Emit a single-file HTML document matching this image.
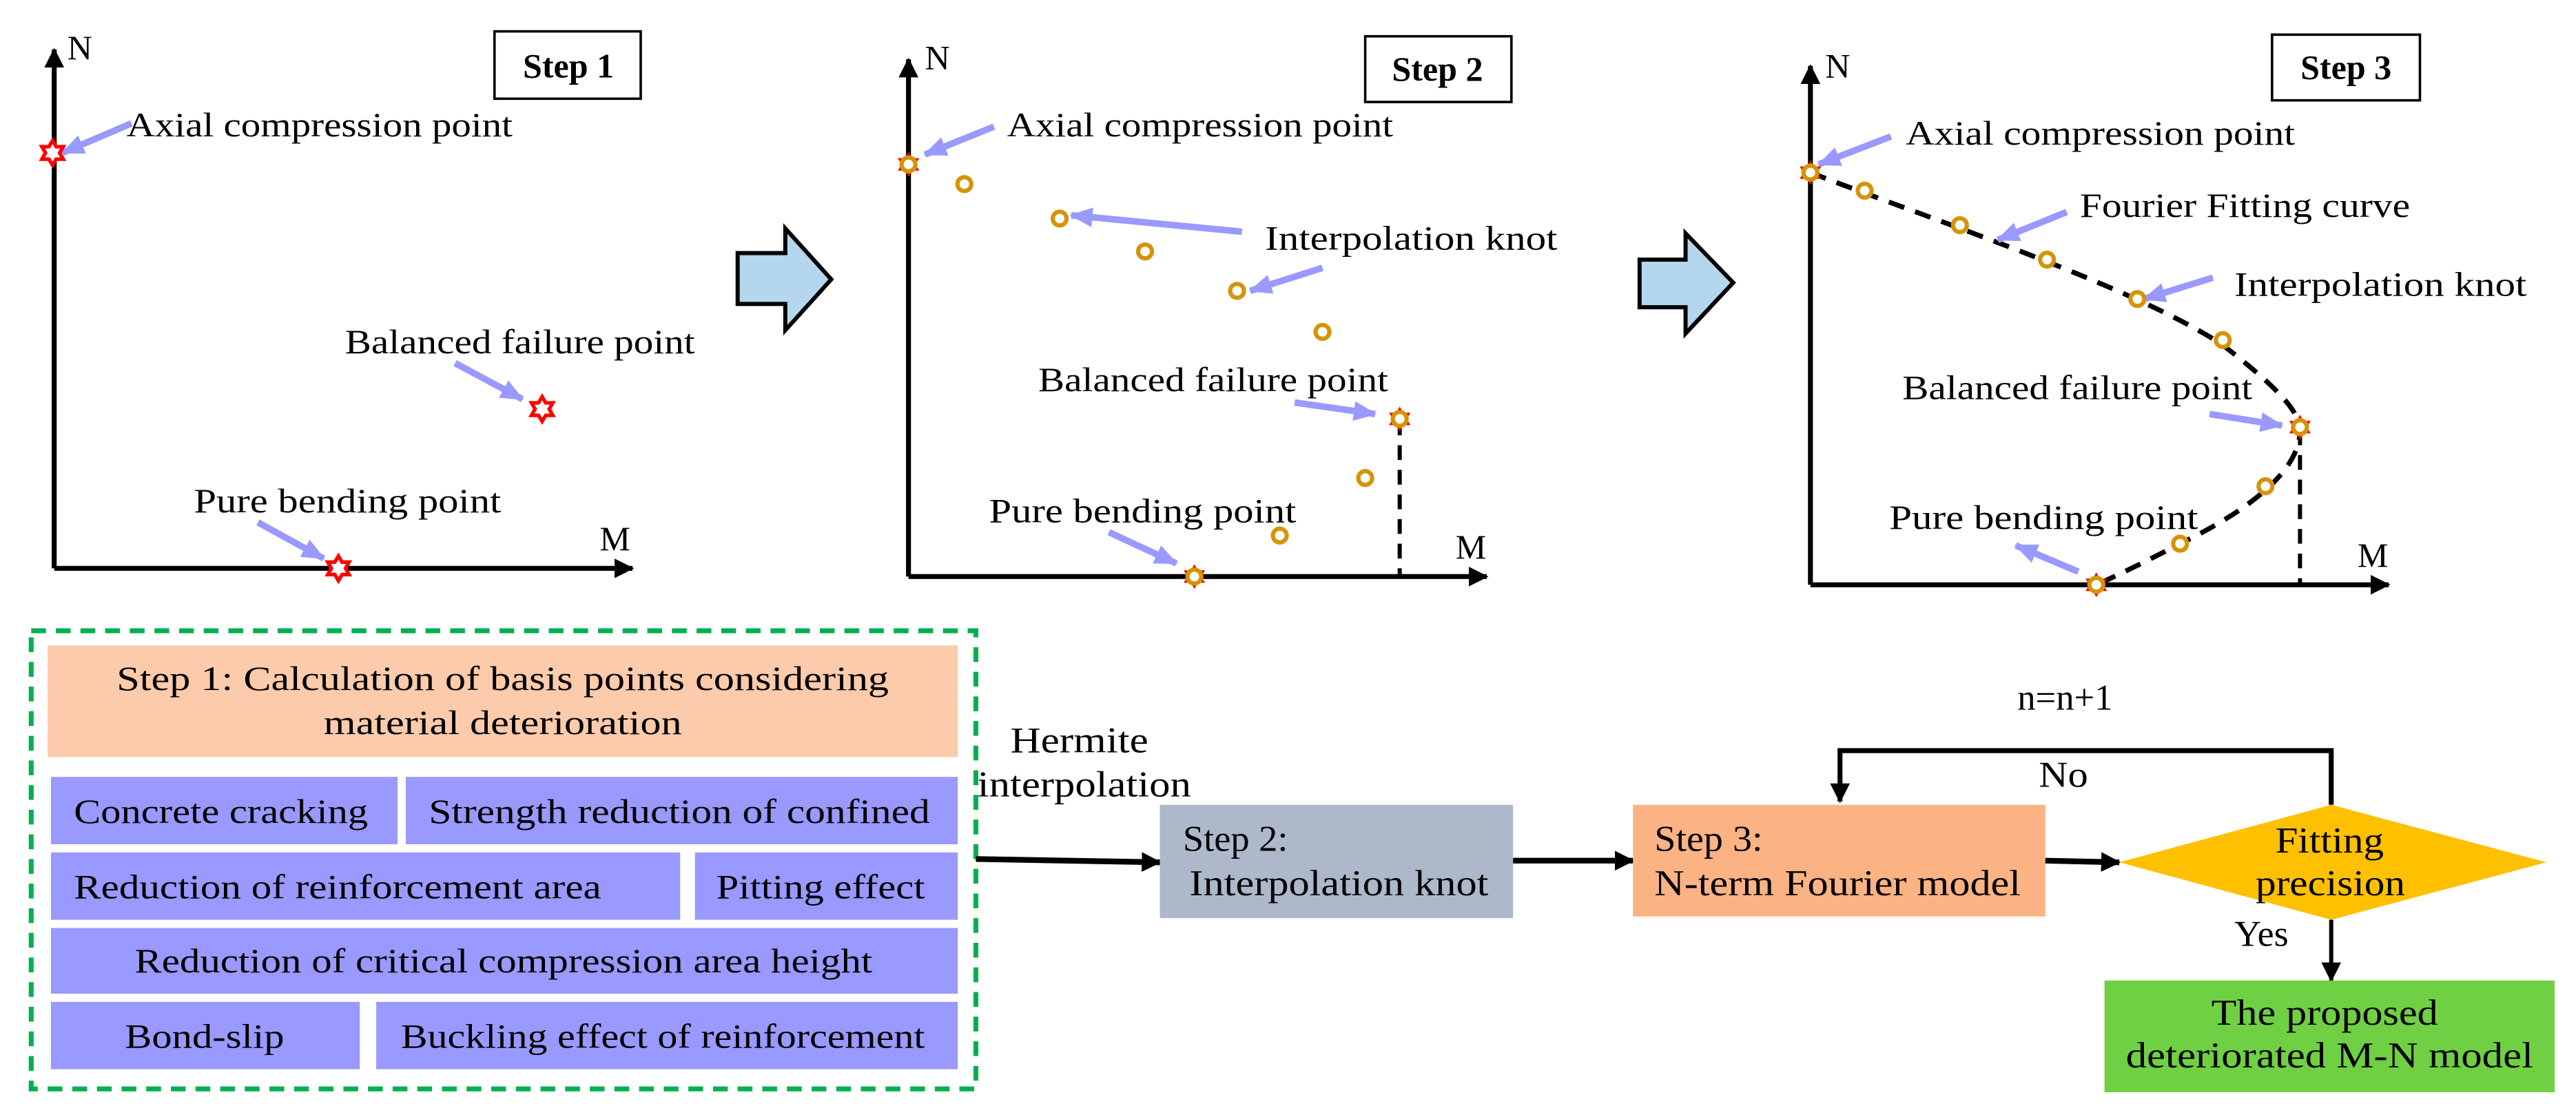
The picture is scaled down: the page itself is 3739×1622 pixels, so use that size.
<!DOCTYPE html>
<html><head><meta charset="utf-8"><style>
html,body{margin:0;padding:0;background:#fff}
svg{display:block}
text{font-family:"Liberation Serif",serif;fill:#000}
</style></head><body>
<svg width="3739" height="1622" viewBox="0 0 1568 680" xmlns="http://www.w3.org/2000/svg">
<defs>
<marker id="bh" markerUnits="userSpaceOnUse" markerWidth="14" markerHeight="12" refX="13" refY="6" orient="auto"><path d="M0,0 L14,6 L0,12 Z" fill="#9999FF"/></marker>
<marker id="kh" markerUnits="userSpaceOnUse" markerWidth="12" markerHeight="12" refX="11" refY="6" orient="auto"><path d="M0,0 L12,6 L0,12 Z" fill="#000"/></marker>
<g id="star"><path d="M0,-7.5 L2.2,-3.8 L6.5,-3.8 L4.3,0 L6.5,3.8 L2.2,3.8 L0,7.5 L-2.2,3.8 L-6.5,3.8 L-4.3,0 L-6.5,-3.8 L-2.2,-3.8 Z" fill="#fff" stroke="#FF0000" stroke-width="2.2"/></g>
<g id="sstar"><path d="M0,-7.5 L6.5,3.8 L-6.5,3.8 Z M0,7.5 L6.5,-3.8 L-6.5,-3.8 Z" fill="#FF0000"/><circle r="4.2" fill="#fff" stroke="#D4940A" stroke-width="2.6"/></g>
<g id="knot"><circle r="4.2" fill="#fff" stroke="#D4940A" stroke-width="2.6"/></g>
</defs>
<g stroke-linecap="butt">
<!-- Panel 1 -->
<line x1="33" y1="346" x2="33" y2="30" stroke="#000" stroke-width="3" marker-end="url(#kh)"/>
<line x1="33" y1="346" x2="385" y2="346" stroke="#000" stroke-width="3" marker-end="url(#kh)"/>
<text x="41" y="36" font-size="21">N</text>
<text x="365" y="335" font-size="21">M</text>
<rect x="301" y="19" width="89" height="41" fill="#fff" stroke="#000" stroke-width="1.5"/>
<text x="346" y="47" font-size="21" font-weight="bold" text-anchor="middle">Step 1</text>
<line x1="80" y1="75" x2="38" y2="93" stroke="#9999FF" stroke-width="4" marker-end="url(#bh)"/>
<text x="77" y="83" font-size="21" textLength="235" lengthAdjust="spacingAndGlyphs">Axial compression point</text>
<use href="#star" x="32" y="93"/>
<line x1="277" y1="221" x2="318" y2="243" stroke="#9999FF" stroke-width="4" marker-end="url(#bh)"/>
<text x="210" y="215" font-size="21" textLength="213" lengthAdjust="spacingAndGlyphs">Balanced failure point</text>
<use href="#star" x="330" y="249"/>
<line x1="157" y1="318" x2="197" y2="340" stroke="#9999FF" stroke-width="4" marker-end="url(#bh)"/>
<text x="118" y="312" font-size="21" textLength="187" lengthAdjust="spacingAndGlyphs">Pure bending point</text>
<use href="#star" x="206" y="346"/>
<!-- big arrows -->
<path d="M449,154 L478,154 L478,139 L506,170 L478,201 L478,185 L449,185 Z" fill="#B4D7EE" stroke="#000" stroke-width="2.5"/>
<path d="M998,158 L1026,158 L1026,142 L1055,172 L1026,203 L1026,187 L998,187 Z" fill="#B4D7EE" stroke="#000" stroke-width="2.5"/>
<!-- Panel 2 -->
<line x1="553" y1="351" x2="553" y2="36" stroke="#000" stroke-width="3" marker-end="url(#kh)"/>
<line x1="553" y1="351" x2="905" y2="351" stroke="#000" stroke-width="3" marker-end="url(#kh)"/>
<text x="563" y="42" font-size="21">N</text>
<text x="886" y="340" font-size="21">M</text>
<rect x="831" y="22" width="89" height="40" fill="#fff" stroke="#000" stroke-width="1.5"/>
<text x="875" y="49" font-size="21" font-weight="bold" text-anchor="middle">Step 2</text>
<line x1="852" y1="256" x2="852" y2="351" stroke="#000" stroke-width="2.5" stroke-dasharray="9,6"/>
<line x1="605" y1="77" x2="563" y2="94" stroke="#9999FF" stroke-width="4" marker-end="url(#bh)"/>
<text x="613" y="83" font-size="21" textLength="235" lengthAdjust="spacingAndGlyphs">Axial compression point</text>
<line x1="756" y1="141" x2="652" y2="131" stroke="#9999FF" stroke-width="4" marker-end="url(#bh)"/>
<line x1="805" y1="163" x2="761" y2="177" stroke="#9999FF" stroke-width="4" marker-end="url(#bh)"/>
<text x="770" y="152" font-size="21" textLength="178" lengthAdjust="spacingAndGlyphs">Interpolation  knot</text>
<line x1="788" y1="245" x2="837" y2="252" stroke="#9999FF" stroke-width="4" marker-end="url(#bh)"/>
<text x="632" y="238" font-size="21" textLength="213" lengthAdjust="spacingAndGlyphs">Balanced failure point</text>
<line x1="675" y1="324" x2="716" y2="343" stroke="#9999FF" stroke-width="4" marker-end="url(#bh)"/>
<text x="602" y="318" font-size="21" textLength="187" lengthAdjust="spacingAndGlyphs">Pure bending point</text>
<use href="#knot" x="587" y="112"/><use href="#knot" x="645" y="133"/><use href="#knot" x="697" y="153"/>
<use href="#knot" x="753" y="177"/><use href="#knot" x="805" y="202"/><use href="#knot" x="831" y="291"/>
<use href="#knot" x="779" y="326"/>
<use href="#sstar" x="553" y="100"/><use href="#sstar" x="852" y="255"/><use href="#sstar" x="727" y="351"/>
<!-- Panel 3 -->
<line x1="1102" y1="356" x2="1102" y2="40" stroke="#000" stroke-width="3" marker-end="url(#kh)"/>
<line x1="1102" y1="356" x2="1454" y2="356" stroke="#000" stroke-width="3" marker-end="url(#kh)"/>
<text x="1111" y="47" font-size="21">N</text>
<text x="1435" y="345" font-size="21">M</text>
<rect x="1383" y="21" width="90" height="40" fill="#fff" stroke="#000" stroke-width="1.5"/>
<text x="1428" y="48" font-size="21" font-weight="bold" text-anchor="middle">Step 3</text>
<line x1="1400" y1="262" x2="1400" y2="356" stroke="#000" stroke-width="2.5" stroke-dasharray="9,6"/>
<path d="M1102,105 C1180,135 1300,175 1353,210 C1385,235 1400,250 1400,262 C1400,290 1360,315 1327,331 C1300,345 1285,352 1276,356" fill="none" stroke="#000" stroke-width="3" stroke-dasharray="10,7"/>
<line x1="1151" y1="83" x2="1107" y2="100" stroke="#9999FF" stroke-width="4" marker-end="url(#bh)"/>
<text x="1160" y="88" font-size="21" textLength="237" lengthAdjust="spacingAndGlyphs">Axial compression point</text>
<line x1="1258" y1="129" x2="1216" y2="146" stroke="#9999FF" stroke-width="4" marker-end="url(#bh)"/>
<text x="1266" y="132" font-size="21" textLength="201" lengthAdjust="spacingAndGlyphs">Fourier Fitting curve</text>
<line x1="1347" y1="169" x2="1305" y2="182" stroke="#9999FF" stroke-width="4" marker-end="url(#bh)"/>
<text x="1360" y="180" font-size="21" textLength="178" lengthAdjust="spacingAndGlyphs">Interpolation  knot</text>
<line x1="1345" y1="252" x2="1389" y2="259" stroke="#9999FF" stroke-width="4" marker-end="url(#bh)"/>
<text x="1158" y="243" font-size="21" textLength="213" lengthAdjust="spacingAndGlyphs">Balanced failure point</text>
<line x1="1265" y1="348" x2="1227" y2="332" stroke="#9999FF" stroke-width="4" marker-end="url(#bh)"/>
<text x="1150" y="322" font-size="21" textLength="188" lengthAdjust="spacingAndGlyphs">Pure bending point</text>
<use href="#knot" x="1135" y="116"/><use href="#knot" x="1193" y="137"/><use href="#knot" x="1246" y="158"/>
<use href="#knot" x="1301" y="182"/><use href="#knot" x="1353" y="207"/><use href="#knot" x="1379" y="296"/>
<use href="#knot" x="1327" y="331"/>
<use href="#sstar" x="1102" y="105"/><use href="#sstar" x="1400" y="260"/><use href="#sstar" x="1276" y="356"/>
<!-- Bottom left -->
<rect x="19" y="384" width="575" height="279" fill="none" stroke="#00B050" stroke-width="3" stroke-dasharray="9,6"/>
<rect x="29" y="393" width="554" height="68" fill="#FCCBAC"/>
<text x="306" y="420" font-size="21" text-anchor="middle" textLength="470" lengthAdjust="spacingAndGlyphs">Step 1:   Calculation of basis points considering</text>
<text x="306" y="447" font-size="21" text-anchor="middle" textLength="218" lengthAdjust="spacingAndGlyphs">material deterioration</text>
<g fill="#9999FF">
<rect x="31" y="473" width="211" height="41"/><rect x="247" y="473" width="336" height="41"/>
<rect x="31" y="519" width="383" height="41"/><rect x="423" y="519" width="160" height="41"/>
<rect x="31" y="565" width="552" height="40"/>
<rect x="31" y="610" width="188" height="41"/><rect x="229" y="610" width="354" height="41"/>
</g>
<text x="45" y="501" font-size="21" textLength="179" lengthAdjust="spacingAndGlyphs">Concrete cracking</text>
<text x="261" y="501" font-size="21" textLength="305" lengthAdjust="spacingAndGlyphs">Strength reduction of confined</text>
<text x="45" y="547" font-size="21" textLength="321" lengthAdjust="spacingAndGlyphs">Reduction of reinforcement area</text>
<text x="436" y="547" font-size="21" textLength="127" lengthAdjust="spacingAndGlyphs">Pitting effect</text>
<text x="82" y="592" font-size="21" textLength="449" lengthAdjust="spacingAndGlyphs">Reduction of critical compression area height</text>
<text x="76" y="638" font-size="21" textLength="97" lengthAdjust="spacingAndGlyphs">Bond-slip</text>
<text x="244" y="638" font-size="21" textLength="319" lengthAdjust="spacingAndGlyphs">Buckling effect of reinforcement</text>
<!-- Flow -->
<text x="615" y="458" font-size="22" textLength="84" lengthAdjust="spacingAndGlyphs">Hermite</text>
<text x="595" y="485" font-size="22" textLength="130" lengthAdjust="spacingAndGlyphs">interpolation</text>
<line x1="594" y1="523" x2="706" y2="525" stroke="#000" stroke-width="3.5" marker-end="url(#kh)"/>
<rect x="706" y="490" width="215" height="69" fill="#ADB9CA"/>
<text x="720" y="518" font-size="22" textLength="64" lengthAdjust="spacingAndGlyphs">Step 2:</text>
<text x="724" y="545" font-size="22" textLength="182" lengthAdjust="spacingAndGlyphs">Interpolation knot</text>
<line x1="921" y1="524" x2="994" y2="524" stroke="#000" stroke-width="3.5" marker-end="url(#kh)"/>
<rect x="994" y="490" width="251" height="68" fill="#FBB384"/>
<text x="1007" y="518" font-size="22" textLength="66" lengthAdjust="spacingAndGlyphs">Step 3:</text>
<text x="1007" y="545" font-size="22" textLength="223" lengthAdjust="spacingAndGlyphs">N-term Fourier model</text>
<line x1="1245" y1="524" x2="1290" y2="525" stroke="#000" stroke-width="3.5" marker-end="url(#kh)"/>
<path d="M1290,525 L1419,490 L1550,525 L1419,560 Z" fill="#FFC000"/>
<text x="1385" y="519" font-size="22" textLength="66" lengthAdjust="spacingAndGlyphs">Fitting</text>
<text x="1373" y="545" font-size="22" textLength="91" lengthAdjust="spacingAndGlyphs">precision</text>
<polyline points="1419,490 1419,457 1120,457 1120,488" fill="none" stroke="#000" stroke-width="3" marker-end="url(#kh)"/>
<text x="1241" y="479" font-size="22" textLength="30" lengthAdjust="spacingAndGlyphs">No</text>
<text x="1228" y="432" font-size="22" textLength="58" lengthAdjust="spacingAndGlyphs">n=n+1</text>
<text x="1360" y="576" font-size="22" textLength="33" lengthAdjust="spacingAndGlyphs">Yes</text>
<line x1="1419" y1="560" x2="1419" y2="597" stroke="#000" stroke-width="2.5" marker-end="url(#kh)"/>
<rect x="1281" y="597" width="274" height="68" fill="#70D044"/>
<text x="1346" y="624" font-size="22" textLength="138" lengthAdjust="spacingAndGlyphs">The proposed</text>
<text x="1294" y="650" font-size="22" textLength="248" lengthAdjust="spacingAndGlyphs">deteriorated M-N model</text>
</g>
</svg>
</body></html>
